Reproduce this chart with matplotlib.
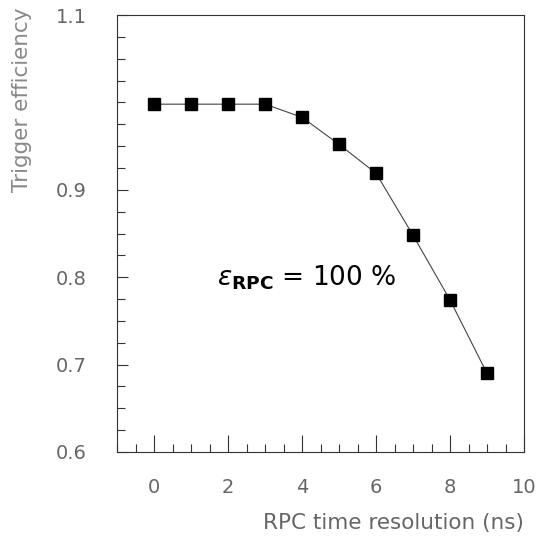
import matplotlib
matplotlib.use('Agg')
import matplotlib.pyplot as plt
from matplotlib.ticker import MultipleLocator, FixedLocator, FixedFormatter

# RPC time resolution (ns) vs trigger efficiency
resolution = [0, 1, 2, 3, 4, 5, 6, 7, 8, 9]
efficiency = [0.998, 0.998, 0.998, 0.998, 0.983, 0.952, 0.919, 0.848, 0.774, 0.690]

ytick_vals = [0.6, 0.7, 0.8, 0.9, 1.1]
ytick_text = ['0.6', '0.7', '0.8', '0.9', '1.1']
xtick_vals = [0, 2, 4, 6, 8, 10]

plt.rcParams['font.family'] = ['DejaVu Sans']

fig = plt.figure(figsize=(5.4, 5.37), dpi=100)
ax = fig.add_axes([0.2167, 0.1583, 0.7537, 0.8137])

ax.plot(resolution, efficiency, '-', color='#444444', lw=0.8)
ax.plot(resolution, efficiency, 's', color='black', markersize=8.5)

ax.set_xlim(-1, 10)
ax.set_ylim(0.6, 1.1)

ax.xaxis.set_major_locator(FixedLocator(xtick_vals))
ax.xaxis.set_minor_locator(MultipleLocator(0.5))
ax.yaxis.set_major_locator(FixedLocator(ytick_vals))
ax.yaxis.set_major_formatter(FixedFormatter(ytick_text))
ax.yaxis.set_minor_locator(MultipleLocator(0.025))

ax.tick_params(which='both', direction='in', top=False, right=False,
               color='#333333', width=0.8, labelcolor='#666666', labelsize=14)
ax.tick_params(axis='x', which='major', length=12, pad=19)
ax.tick_params(axis='x', which='minor', length=6)
ax.tick_params(axis='y', which='major', length=8, pad=22)
ax.tick_params(axis='y', which='minor', length=6)

for s in ax.spines.values():
    s.set_linewidth(0.8)
    s.set_color('#333333')

ax.text(1.7, 0.799, r'$\varepsilon_{\mathbf{RPC}}$ = 100 %', fontsize=19,
        color='black', va='center', ha='left')

fig.text(0.970, 1 - 523 / 537, 'RPC time resolution (ns)', ha='right', va='center',
         fontsize=15.5, color='#666666')
fig.text(22 / 540, 1 - 8 / 537, 'Trigger efficiency', rotation=90, ha='center', va='top',
         fontsize=15.5, color='#888888')

fig.savefig('out.png', dpi=100)
